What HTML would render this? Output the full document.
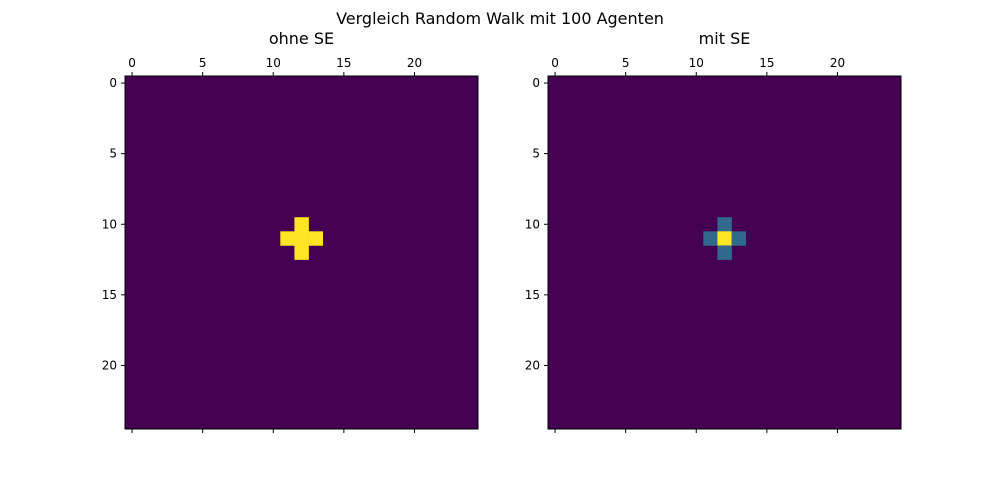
<!DOCTYPE html>
<html><head><meta charset="utf-8"><style>
html,body{margin:0;padding:0;background:#fff;overflow:hidden;width:1000px;height:500px}
svg{display:block}
svg text{font-family:"DejaVu Sans","Liberation Sans",sans-serif}
</style></head><body>
<svg id="c" width="1000" height="500">
<text x="500" y="24" font-size="16" text-anchor="middle">Vergleich Random Walk mit 100 Agenten</text>
</svg>
<script>
const gridSize = 25;
const ticks = [0, 5, 10, 15, 20];
const panelTitles = ["ohne SE", "mit SE"];
// nonzero cells: [row, col, value] (value normalized 0..1)
const cellsLeft = [[10,12,1],[11,11,1],[11,12,1],[11,13,1],[12,12,1]];
const cellsRight = [[10,12,0.4],[11,11,0.4],[11,12,1],[11,13,0.4],[12,12,0.4]];
const panelCells = [cellsLeft, cellsRight];
const panelX = [125, 548];
const top0 = 76, size = 353;
const svg = document.getElementById('c');
const NS = 'http://www.w3.org/2000/svg';
function mk(t, a, p){const e=document.createElementNS(NS,t);for(const k in a)e.setAttribute(k,a[k]);(p||svg).appendChild(e);return e;}
function viridis(v){const s=[[0,[68,1,84]],[0.4,[49,104,142]],[0.6,[33,145,140]],[1,[253,231,37]]];for(let i=1;i<s.length;i++){if(v<=s[i][0]){const a=s[i-1],b=s[i],t=(v-a[0])/(b[0]-a[0]);return 'rgb('+a[1].map((x,j)=>Math.round(x+(b[1][j]-x)*t)).join(',')+')';}}return 'rgb(253,231,37)';}
panelCells.forEach((cells, p) => {
  const x0 = panelX[p], cw = size / gridSize;
  const sx = c => x0 + c * cw, sy = r => top0 + r * cw;
  const g = mk('g', {});
  
  
  const bg = mk('rect', {x: x0, y: top0, width: size, height: size, fill: viridis(0)}, g);
  
  
  cells.forEach(([r, c, v]) => {
    const e = mk('rect', {x: sx(c), y: sy(r), width: cw + 0.3, height: cw + 0.3, fill: viridis(v)}, g);
    
    
  });
  const fr = mk('rect', {x: x0, y: top0, width: size, height: size, fill: 'none', stroke: '#000', 'stroke-width': 1}, g);
  
  
  ticks.forEach(t => {
    const cx = sx(t + 0.5), cy = sy(t + 0.5);
    mk('line', {x1: cx, x2: cx, y1: top0, y2: top0 - 4, stroke: '#000'}, g);
    mk('line', {x1: cx, x2: cx, y1: top0 + size, y2: top0 + size + 4, stroke: '#000'}, g);
    mk('line', {x1: x0, x2: x0 - 4, y1: cy, y2: cy, stroke: '#000'}, g);
    const tx = mk('text', {x: cx, y: top0 - 9, 'font-size': 12, 'text-anchor': 'middle'}, g);
    tx.textContent = t;
    
    
    const ty = mk('text', {x: x0 - 8, y: cy + 4, 'font-size': 12, 'text-anchor': 'end'}, g);
    ty.textContent = t;
    
    
  });
  const tt = mk('text', {x: x0 + size / 2, y: 44, 'font-size': 16, 'text-anchor': 'middle'}, g);
  tt.textContent = panelTitles[p];
  
  
});
</script>
</body></html>
